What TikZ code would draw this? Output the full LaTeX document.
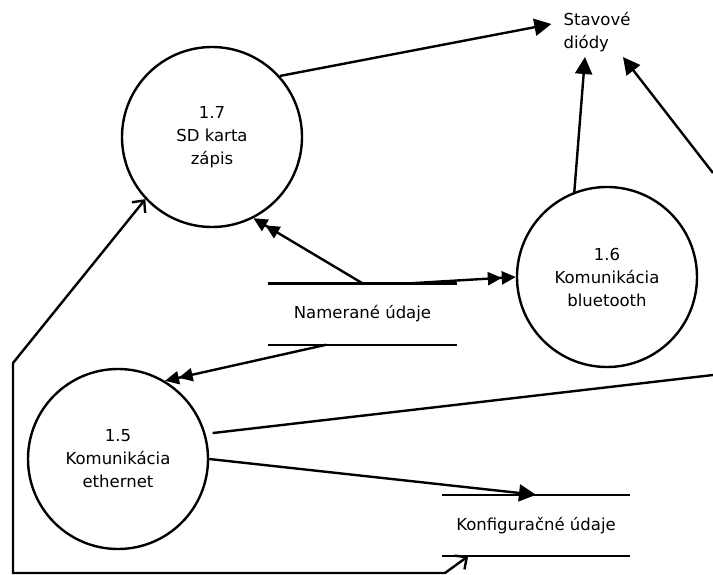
\documentclass[tikz,border=0pt]{standalone}
\usepackage{fontspec}
\setmainfont{DejaVu Sans}
\usetikzlibrary{arrows.meta,calc}
\begin{document}
\begin{tikzpicture}[x=1pt,y=-1pt,
  every node/.style={font=\fontsize{16.5}{23}\selectfont},
  proc/.style={circle,draw,line width=2.4pt,minimum size=180pt,align=center,inner sep=0pt},
  store/.style={minimum width=189pt,minimum height=61pt,inner sep=0pt},
  flow/.style={line width=2.4pt,-{Triangle[length=17pt,width=17pt]}},
  dflow/.style={line width=2.4pt,-{Triangle[length=14pt,width=13pt]Triangle[length=14pt,width=13pt]}},
  oflow/.style={line width=2.4pt,{Straight Barb[length=9pt,width=17pt]}-{Straight Barb[length=9pt,width=17pt]}},
  plainline/.style={line width=2.4pt}]
\useasboundingbox (0,0) rectangle (713,575);
\clip (0,0) rectangle (713,575);
\fill[white] (0,0) rectangle (713,575);

\node[proc] (c17) at (212,137) {1.7\\SD karta\\zápis};
\node[proc] (c16) at (607,277) {1.6\\Komunikácia\\bluetooth};
\node[proc] (c15) at (118,459) {1.5\\Komunikácia\\ethernet};

\node[store] (nam) at (362.5,314) {Namerané údaje};
\draw[plainline] (nam.north west) -- (nam.north east) (nam.south west) -- (nam.south east);
\node[store, minimum width=188pt] (konf) at (536,525.5) {Konfiguračné údaje};
\draw[plainline] (konf.north west) -- (konf.north east) (konf.south west) -- (konf.south east);

\node[align=left, inner xsep=12pt, inner ysep=5pt] (stav) at (597,32) {Stavové\\diódy};

\coordinate (eR1) at (713,173);
\coordinate (eR2) at (713,375);
\coordinate (bl1) at (13,363);
\coordinate (bl2) at (13,573);
\coordinate (bl3) at (445,573);

\draw[flow] (c17.42) -- ([yshift=8pt]stav.west);
\draw[flow] (c16.111) -- ([xshift=-12pt]stav.south);
\draw[flow] (eR1) -- ([xshift=26pt]stav.south);
\draw[dflow] (nam.north) -- (c17.-63);
\draw[dflow] ($(nam.north west)!0.75!(nam.north east)$) -- (c16.180);
\draw[dflow] ($(nam.south west)!0.31!(nam.south east)$) -- (c15.59);
\draw[plainline, shorten <=7pt] (c15.16) -- (eR2);
\draw[flow] (c15.east) -- (konf.north);
\draw[oflow] (c17.-137) -- (bl1) -- (bl2) -- (bl3) -- ($(konf.south west)!0.14!(konf.south east)$);
\end{tikzpicture}
\end{document}
